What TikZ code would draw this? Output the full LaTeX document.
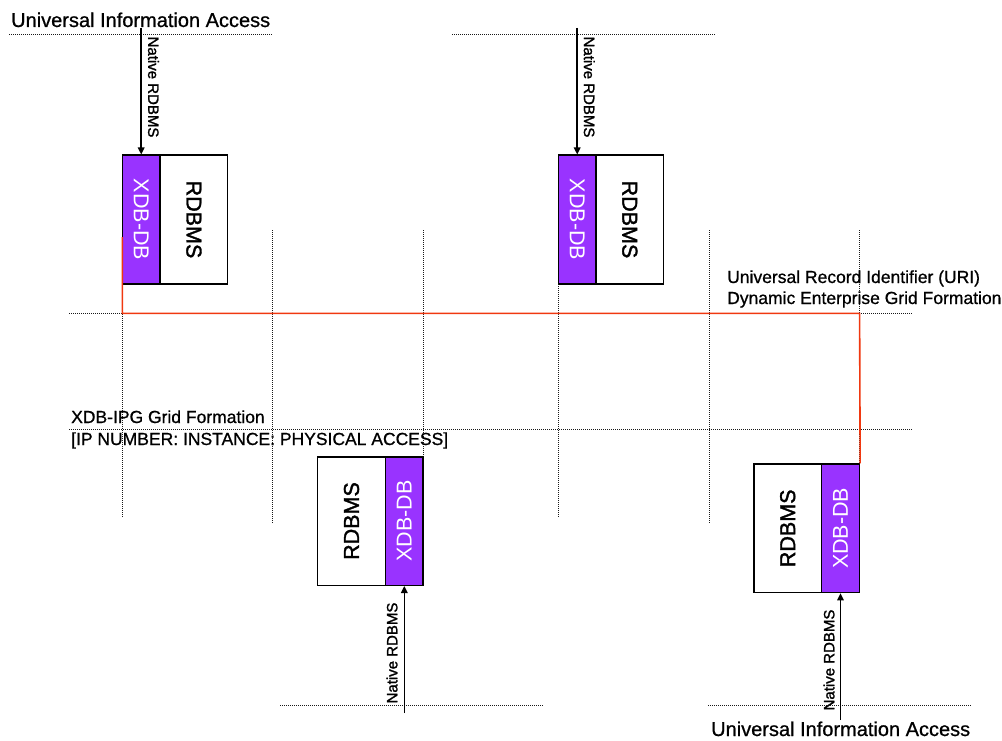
\documentclass[tikz,border=0pt]{standalone}
\usepackage{fontspec}
\setmainfont{Liberation Sans}
\newfontfamily\heavyfont{Liberation Sans}[FakeBold=0.8]
\newfontfamily\heavierfont{Liberation Sans}[FakeBold=1.6]
\usetikzlibrary{arrows.meta}
\definecolor{xdbpurple}{RGB}{153,51,255}
\definecolor{gridred}{RGB}{240,56,16}
\begin{document}
\begin{tikzpicture}[x=1pt,y=-1pt,
  dotline/.style={line width=1pt, dash pattern=on 1pt off 1pt, black!90},
  boxbase/.style={draw=black, line width=1.5pt, minimum height=128.5pt, inner sep=0pt},
  xdbbox/.style={boxbase, fill=xdbpurple, minimum width=37.8pt},
  rdbox/.style={boxbase, fill=white, minimum width=67.6pt},
  boxtext/.style={inner sep=0pt, font=\heavierfont\fontsize{21.5}{24}\selectfont},
  xdbtext/.style={inner sep=0pt, text=white, font=\fontsize{21.5}{24}\selectfont},
  nativetext/.style={inner sep=0pt, font=\heavierfont\fontsize{15}{17}\selectfont},
  bigtext/.style={inner sep=0pt, anchor=base west, font=\heavyfont\fontsize{20}{24}\selectfont},
  midtext/.style={inner sep=0pt, anchor=base west, font=\heavyfont\fontsize{17.5}{21}\selectfont},
  arrowline/.style={line width=1.5pt, -{Triangle[length=7pt,width=6.5pt]}},
  redline/.style={line width=1.6pt, gridred}
]
\useasboundingbox (0,0) rectangle (1002,741);

% dotted grid
\draw[dotline] (9,35) -- (272,35);
\draw[dotline] (452,35) -- (716,35);
\draw[dotline] (69,313.3) -- (912,313.3);
\draw[dotline] (69,429.5) -- (912,429.5);
\draw[dotline] (280,705.5) -- (543,705.5);
\draw[dotline] (708,705.5) -- (972,705.5);
\draw[dotline] (122.3,230) -- (122.3,517);
\draw[dotline] (272,230) -- (272,523);
\draw[dotline] (423.3,230) -- (423.3,457);
\draw[dotline] (558.3,230) -- (558.3,517);
\draw[dotline] (709,230) -- (709,523);
\draw[dotline] (859.3,230) -- (859.3,464);

% boxes
\node[xdbbox] (x1) at (141.2,219.5) {};
\node[rdbox]  (r1) at (193.9,219.5) {};
\node[xdbbox] (x2) at (577.2,219.5) {};
\node[rdbox]  (r2) at (629.8,219.5) {};
\node[rdbox]  (r3) at (351.5,521) {};
\node[xdbbox] (x3) at (404.3,521) {};
\node[rdbox]  (r4) at (787.7,528.3) {};
\node[xdbbox] (x4) at (840.5,528.3) {};

\node[xdbtext, rotate=-90] (tx1) at (x1) {XDB-DB};
\node[boxtext, rotate=-90] (tr1) at (r1) {RDBMS};
\node[xdbtext, rotate=-90] (tx2) at (x2) {XDB-DB};
\node[boxtext, rotate=-90] (tr2) at (r2) {RDBMS};
\node[xdbtext, rotate=90] (tx3) at (x3) {XDB-DB};
\node[boxtext, rotate=90] (tr3) at (r3) {RDBMS};
\node[xdbtext, rotate=90] (tx4) at (x4) {XDB-DB};
\node[boxtext, rotate=90] (tr4) at (r4) {RDBMS};

% red grid connector
\coordinate (rs) at (122.3,237);
\coordinate (rc) at (122.3,313.3);
\coordinate (re) at (859.6,313.3);
\draw[redline] (rs) -- (rc) -- (re) -- (x4.north east);

% access arrows
\coordinate (a1) at (141.2,28);
\coordinate (a2) at (577.2,28);
\coordinate (a3) at (404.3,713);
\coordinate (a4) at (840.5,720);
\draw[arrowline] (a1) -- (x1.north);
\draw[arrowline] (a2) -- (x2.north);
\draw[arrowline] (a3) -- (x3.south);
\draw[arrowline] (a4) -- (x4.south);

\node[nativetext, rotate=-90] (n1) at (153.5,87) {Native RDBMS};
\node[nativetext, rotate=-90] (n2) at (589.3,87) {Native RDBMS};
\node[nativetext, rotate=90] (n3) at (392,653) {Native RDBMS};
\node[nativetext, rotate=90] (n4) at (829,660) {Native RDBMS};

% texts
\node[bigtext] (uia1) at (11,27) {Universal Information Access};
\node[bigtext] (uia2) at (711,736) {Universal Information Access};
\node[midtext] (uri1) at (727,283) {Universal Record Identifier (URI)};
\node[midtext] (uri2) at (727,304) {Dynamic Enterprise Grid Formation};
\node[midtext] (ipg1) at (71,423) {XDB-IPG Grid Formation};
\node[midtext] (ipg2) at (71,445) {[IP NUMBER: INSTANCE: PHYSICAL ACCESS]};
\end{tikzpicture}
\end{document}
